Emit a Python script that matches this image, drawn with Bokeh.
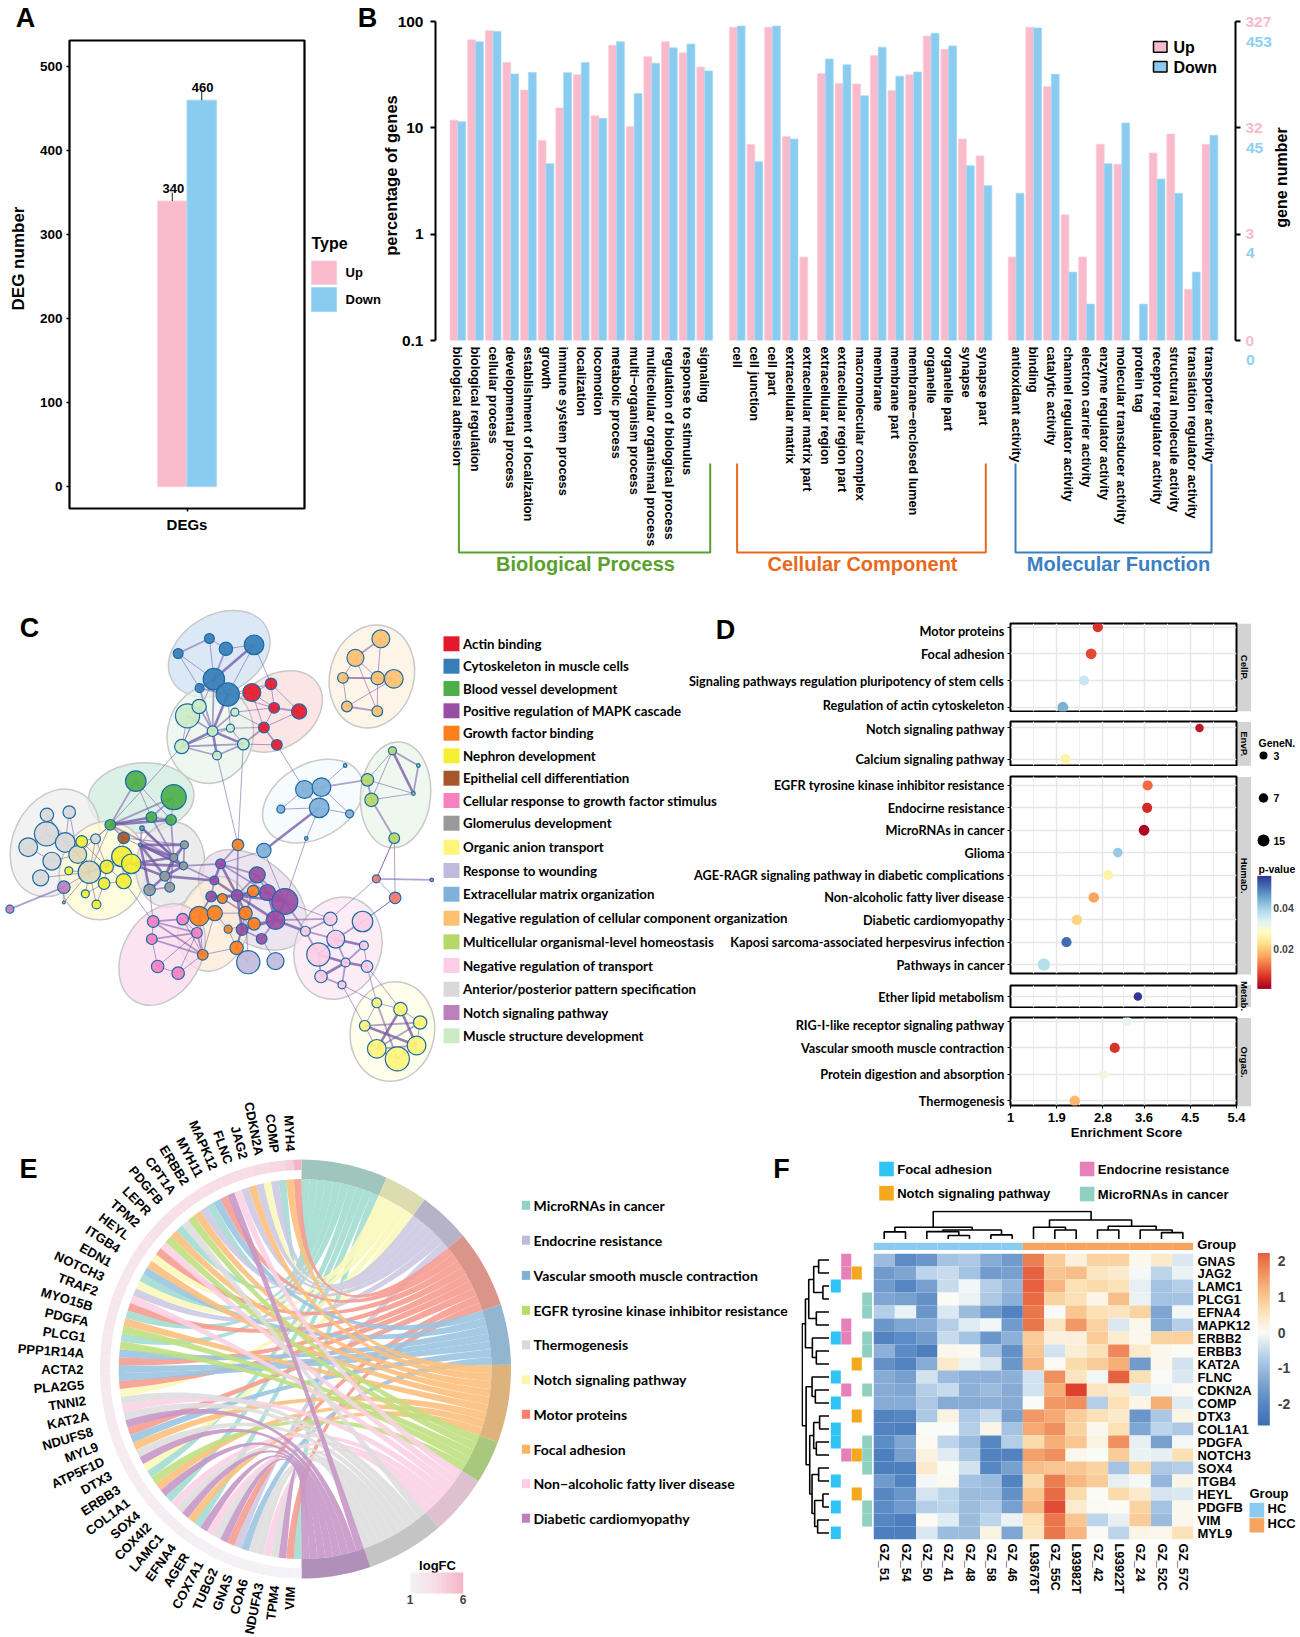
import math
import numpy as np
from bokeh.plotting import figure
from bokeh.embed import file_html
from bokeh.resources import INLINE
from bokeh.core.properties import value
from bokeh.models import Range1d, FixedTicker, FactorRange, ColorBar, LinearColorMapper, ColumnDataSource, LogAxis
from bokeh.palettes import interp_palette
from bokeh.transform import transform

FONT = "Liberation Sans"
NARROW = "Lato"
PINK = "#F9BBCC"
BLUE = "#89CCF0"

# ---------- panel A
deg_types = ["Up", "Down"]
deg_counts = [340, 460]

# ---------- panel B
bp_terms = ["biological adhesion", "biological regulation", "cellular process", "developmental process",
            "establishment of localization", "growth", "immune system process", "localization", "locomotion",
            "metabolic process", "multi\u2212organism process", "multicellular organismal process",
            "regulation of biological process", "response to stimulus", "signaling"]
bp_up = [11.8, 67.3, 82, 41.2, 22.7, 7.6, 15.4, 31.6, 13, 59.9, 10.3, 46.7, 64.5, 50.7, 37.3]
bp_down = [11.4, 64.5, 80.7, 32.1, 33.2, 4.6, 33, 41.2, 12.3, 64.5, 21, 40.6, 56.5, 61.4, 34.3]
cc_terms = ["cell", "cell junction", "cell part", "extracellular matrix", "extracellular matrix part",
            "extracellular region", "extracellular region part", "macromolecular complex", "membrane",
            "membrane part", "membrane\u2212enclosed lumen", "organelle", "organelle part", "synapse", "synapse part"]
cc_up = [88.4, 7.0, 88.4, 8.3, 0.61, 32.4, 26.1, 25.9, 47.9, 22.5, 31.6, 73, 54.7, 7.85, 5.45]
cc_down = [90.6, 4.8, 90.6, 7.85, 0.1, 44.4, 39.2, 20, 57.4, 30.6, 33.5, 77.4, 58.9, 4.4, 2.86]
mf_terms = ["antioxidant activity", "binding", "catalytic activity", "channel regulator activity",
            "electron carrier activity", "enzyme regulator activity", "molecular transducer activity",
            "protein tag", "receptor regulator activity", "structural molecule activity",
            "translation regulator activity", "transporter activity"]
mf_up = [0.61, 88.4, 24.5, 1.52, 0.61, 7, 4.55, 0.1, 5.8, 8.75, 0.304, 7]
mf_down = [2.42, 87, 31.9, 0.44, 0.22, 4.6, 11.1, 0.22, 3.3, 2.42, 0.44, 8.5]
group_start = [0, 15.85, 31.67]

# ---------- panel C
legend_c = ["Actin binding", "Cytoskeleton in muscle cells", "Blood vessel development",
            "Positive regulation of MAPK cascade", "Growth factor binding", "Nephron development",
            "Epithelial cell differentiation", "Cellular response to growth factor stimulus",
            "Glomerulus development", "Organic anion transport", "Response to wounding",
            "Extracellular matrix organization", "Negative regulation of cellular component organization",
            "Multicellular organismal-level homeostasis", "Negative regulation of transport",
            "Anterior/posterior pattern specification", "Notch signaling pathway", "Muscle structure development"]
colors_c = ["#E41A2C", "#377EB8", "#4DAF4A", "#984EA3", "#FF7F1E", "#F5EE33", "#A65628", "#F781BF", "#999999",
            "#FFF57A", "#C0BBDD", "#7FB1D9", "#FDC070", "#B5D868", "#FCCDE5", "#D9D9D9", "#BC80BD", "#CCEBC5",
            "#F4776A", "#DDD9B8"]
node_x = [468, 398, 505, 568, 478, 446, 509, 563, 606, 613, 669, 590, 619, 852, 795, 767, 845, 881, 776, 844,
          419, 445, 525, 475, 515, 406, 544, 485, 303, 388, 246, 338, 382, 681, 719, 714, 628, 782, 772, 685, 590,
          878, 936, 925, 822, 831, 882, 104, 154, 103, 62, 115, 90, 145, 173, 199, 213,
          182, 272, 293, 238, 276, 232, 153, 190, 215, 142, 276, 142, 21,
          412, 388, 410, 368, 379, 334, 317, 313, 493, 575, 479, 472, 530, 598, 637, 616, 541, 585,
          532, 566, 497, 549, 568, 510, 445, 480, 529, 453, 342, 408, 440, 339, 352, 398, 555, 616,
          739, 811, 683, 751, 712, 814, 773, 821, 718, 765, 842, 884, 966, 843, 896, 940, 816, 932, 843, 889]
node_y = [114, 159, 145, 133, 236, 263, 282, 276, 250, 322, 333, 381, 433, 115, 172, 232, 233, 235, 318, 332,
          346, 318, 335, 392, 383, 438, 431, 465, 542, 590, 673, 650, 658, 567, 560, 622, 626, 640, 495, 714, 750,
          451, 495, 579, 538, 598, 713, 643, 635, 700, 740, 782, 832, 726, 762, 815, 715,
          723, 768, 790, 799, 842, 849, 811, 880, 912, 906, 712, 860, 926,
          733, 771, 796, 827, 860, 868, 683, 733, 790, 823, 840, 888, 885, 876, 903, 959, 987, 1015,
          733, 872, 894, 938, 970, 986, 947, 938, 1042, 1063, 963, 956, 997, 1016, 1098, 1118, 1085, 1082,
          955, 963, 992, 1016, 1062, 1035, 1086, 1098, 1128, 1153, 835, 892, 838, 1207, 1226, 1266, 1276, 1335, 1345, 1375]
node_r = [11, 11, 15, 22, 24, 10, 26, 20, 13, 12, 17, 12, 12, 20, 19, 12, 15, 21, 12, 12,
          27, 16, 9, 12, 9, 16, 13, 10, 23, 28, 12, 12, 12, 20, 21, 22, 9, 9, 4, 4, 16,
          9, 4, 4, 14, 15, 12, 15, 14, 27, 21, 20, 18, 22, 20, 25, 11,
          13, 23, 22, 15, 17, 13, 9, 9, 10, 3, 13, 14, 9,
          9, 9, 9, 11, 11, 13, 5, 4, 11, 18, 10, 12, 13, 18, 29, 21, 13, 12,
          13, 13, 11, 15, 14, 9, 22, 17, 15, 12, 13, 13, 12, 12, 14, 14, 26, 19,
          15, 23, 11, 20, 26, 10, 10, 13, 14, 9, 9, 13, 4, 11, 15, 15, 12, 21, 21, 27]
node_group = [1] * 7 + [0] * 6 + [12] * 7 + [17] * 8 + [2] * 5 + [11] * 8 + [13] * 6 + [15] * 7 + [19, 19, 15] + \
             [5] * 10 + [6] + [16, 16] + [8] * 8 + [3] * 10 + [4] * 10 + [7] * 6 + [10, 10] + [14] * 10 + [18, 18, 16] + [9] * 7
edges = [(0,1,2),(0,2,1),(1,4,1),(2,4,2),(3,4,3),(0,4,1),(4,6,2),(5,6,2),(3,6,1),(4,5,2),(1,5,1),(3,8,1),(2,3,1),
         (7,8,1),(7,9,1),(8,9,1),(9,10,2),(9,11,1),(10,11,1),(11,12,2),(8,10,1),(7,11,1),(6,7,1),(6,8,1),(6,9,1),(22,9,1),(22,11,1),(24,11,1),(26,11,2),(26,12,1),(12,33,1),
         (13,14,2),(13,16,1),(14,16,1),(14,15,1),(15,16,2),(16,17,2),(15,18,1),(16,19,1),(18,19,2),(14,19,1),(15,17,1),(17,18,1),
         (20,21,1),(20,23,2),(21,23,2),(22,23,2),(23,24,2),(23,25,3),(23,26,3),(23,27,3),(25,27,2),(26,27,2),(24,26,1),(24,25,1),(6,23,3),(4,23,2),(5,23,2),(6,24,1),(4,25,1),(25,26,2),(20,25,1),(21,25,1),
         (28,30,2),(28,31,1),(29,30,2),(29,31,2),(30,31,3),(30,32,3),(31,32,2),(29,32,1),(28,32,1),(30,71,2),(31,71,2),(32,71,2),(25,30,1),(27,88,1),(26,88,1),
         (33,34,1),(33,35,1),(34,35,1),(35,36,1),(35,37,1),(34,44,2),(38,34,1),(39,35,1),(36,33,1),(37,34,1),(40,35,3),(40,78,1),(40,84,1),(39,84,1),
         (41,42,2),(41,43,3),(42,43,2),(41,44,1),(44,45,2),(45,46,2),(44,43,1),(45,43,1),(41,45,1),(46,116,1),(116,117,1),(116,118,2),(116,106,1),(117,107,1),(117,46,1),(116,46,1),
         (47,49,1),(48,53,1),(47,53,1),(49,53,1),(49,50,1),(49,54,1),(50,51,1),(51,52,1),(51,54,1),(53,54,1),(54,55,2),(52,55,1),(47,54,1),(48,54,1),(56,53,1),(56,55,1),
         (57,60,1),(58,59,1),(58,60,1),(59,60,1),(60,61,1),(60,62,1),(61,62,1),(58,61,1),(55,60,2),(55,58,1),(63,55,1),(64,55,1),(65,55,1),(64,62,1),(65,62,1),(66,55,1),(66,68,1),(68,69,2),(68,55,1),(56,60,1),(57,55,1),
         (67,58,1),(67,60,1),(67,70,1),(67,72,1),(30,55,1),(30,54,1),(30,56,1),(30,67,2),
         (70,71,3),(70,72,2),(71,72,2),(71,73,3),(72,73,3),(73,74,2),(73,75,3),(74,75,2),(76,71,3),(77,71,3),(76,77,2),(77,73,3),(77,72,3),(76,72,2),(70,73,2),(71,74,2),(75,77,3),(70,77,3),(59,72,3),(59,71,3),(59,73,3),(72,78,2),(73,80,3),(72,80,2),
         (78,80,3),(78,79,2),(78,82,3),(78,83,2),(80,81,2),(80,82,3),(81,82,3),(82,83,3),(82,84,3),(83,84,3),(83,85,3),(84,85,3),(82,85,3),(82,86,3),(85,86,3),(86,87,2),(85,87,2),(88,78,2),(88,82,2),(79,83,2),(79,84,2),(79,82,2),
         (89,90,2),(89,91,2),(90,91,2),(91,92,2),(92,93,1),(93,95,1),(94,95,2),(91,95,1),(94,97,1),(96,97,1),(96,93,1),(96,91,2),(81,94,2),(90,81,2),(91,82,3),(92,85,2),(89,82,2),(94,81,1),(96,86,2),(97,95,1),
         (98,99,2),(98,100,2),(99,100,1),(98,101,1),(100,101,2),(101,102,1),(100,103,1),(102,103,1),(100,97,2),(101,97,2),(99,97,1),(103,97,1),(102,100,1),(98,97,2),(94,100,1),(94,99,1),(61,98,1),(75,98,1),
         (104,96,2),(105,87,1),(104,91,1),(106,109,1),(106,108,2),(107,109,2),(108,109,2),(109,110,2),(109,111,3),(109,112,2),(110,112,3),(110,114,2),(111,112,2),(112,113,3),(111,113,1),(112,114,3),(114,115,2),(112,115,2),(108,110,2),(85,108,3),(84,108,2),(85,106,2),(84,106,1),(107,117,1),
         (115,119,1),(113,119,1),(113,120,1),(115,122,1),(119,120,1),(119,122,1),(120,121,1),(120,123,3),(121,123,1),(122,124,1),(124,125,1),(123,125,2),(122,123,3),(120,124,3),(119,125,2),(121,124,2),(121,122,2),(124,123,2)]
ell_x = [490, 620, 832, 470, 315, 122, 230, 380, 700, 885, 565, 478, 362, 756, 878]
ell_y = [160, 333, 228, 402, 592, 727, 810, 792, 602, 583, 898, 970, 1062, 1043, 1293]
ell_w = [108, 98, 104, 98, 106, 112, 100, 86, 108, 106, 124, 96, 108, 104, 100]
ell_h = [78, 72, 84, 86, 70, 84, 86, 68, 74, 70, 80, 70, 78, 86, 84]
ell_a = [30, 35, 75, 80, 5, 65, 70, 80, 30, 85, -40, 75, 60, 70, 80]
ell_c = ["#CFE2F3", "#FBDCDC", "#FDF0E0", "#E8F5EC", "#CFEBDD", "#EEEEEE", "#FEFBD0", "#E6E6E6", "#F3F9FD", "#EAF5E9",
         "#E6DCEB", "#FDEBD6", "#FBD9EE", "#FBE6F3", "#FDFDE3"]

# ---------- panel D
facet_names = ["CellP.", "EnvP.", "HumaD.", "Metab.", "OrgaS."]
facet_terms = [["Motor proteins", "Focal adhesion", "Signaling pathways regulation pluripotency of stem cells",
                "Regulation of actin cytoskeleton"],
               ["Notch signaling pathway", "Calcium signaling pathway"],
               ["EGFR tyrosine kinase inhibitor resistance", "Endocirne resistance", "MicroRNAs in cancer", "Glioma",
                "AGE-RAGR signaling pathway in diabetic complications", "Non-alcoholic fatty liver disease",
                "Diabetic cardiomyopathy", "Kaposi sarcoma-associated herpesvirus infection", "Pathways in cancer"],
               ["Ether lipid metabolism"],
               ["RIG-I-like receptor signaling pathway", "Vascular smooth muscle contraction",
                "Protein digestion and absorption", "Thermogenesis"]]
facet_score = [[2.70, 2.57, 2.43, 2.02], [4.68, 2.07],
               [3.67, 3.66, 3.60, 3.09, 2.90, 2.62, 2.29, 2.09, 1.65], [3.48], [3.27, 3.03, 2.81, 2.25]]
facet_p = [[.006, .008, .036, .044], [.003, .026],
           [.011, .005, .001, .041, .026, .016, .021, .051, .038], [.056], [.033, .006, .031, .018]]
facet_gene = [[5, 7, 5, 7], [3, 6], [5, 5, 7, 4, 5, 6, 6, 5, 15], [3], [4, 5, 4, 6]]
score_ticks = [1, 1.9, 2.8, 3.6, 4.5, 5.4]

# ---------- panel E
chord_genes = ["MYH4", "COMP", "CDKN2A", "JAG2", "FLNC", "MAPK12", "MYH11", "ERBB2", "CPT1A", "PDGFB", "LEPR", "TPM2",
               "HEYL", "ITGB4", "EDN1", "NOTCH3", "TRAF2", "MYO15B", "PDGFA", "PLCG1", "PPP1R14A", "ACTA2", "PLA2G5",
               "TNNI2", "KAT2A", "NDUFS8", "MYL9", "ATP5F1D", "DTX3", "ERBB3", "COL1A1", "SOX4", "COX4I2", "LAMC1",
               "EFNA4", "AGER", "COX7A1", "TUBG2", "GNAS", "COA6", "NDUFA3", "TPM4", "VIM"]
chord_logfc = [6, 4.3, 3.8, 3.6, 3.4, 3.3, 3.2, 3.1, 3.0, 2.9, 2.8, 2.7, 2.6, 2.55, 2.5, 2.4, 2.35, 2.3, 2.25, 2.2, 2.15,
               2.1, 2.05, 2.0, 1.95, 1.9, 1.85, 1.8, 1.75, 1.7, 1.65, 1.6, 1.55, 1.5, 1.45, 1.4, 1.35, 1.3, 1.25, 1.2,
               1.15, 1.1, 1.05]
ring_order = ["MicroRNAs in cancer", "Notch signaling pathway", "Endocrine resistance", "Motor proteins",
              "Vascular smooth muscle contraction", "Focal adhesion", "EGFR tyrosine kinase inhibitor resistance",
              "Non\u2212alcoholic fatty liver disease", "Thermogenesis", "Diabetic cardiomyopathy"]
ring_genes = [["CDKN2A", "ERBB2", "PDGFB", "NOTCH3", "PDGFA", "PLCG1", "ERBB3", "SOX4", "EFNA4", "VIM"],
              ["JAG2", "HEYL", "NOTCH3", "KAT2A", "DTX3"],
              ["CDKN2A", "JAG2", "MAPK12", "ERBB2", "NOTCH3", "GNAS"],
              ["MYH4", "MYH11", "TPM2", "MYO15B", "ACTA2", "TNNI2", "MYL9", "TUBG2", "TPM4"],
              ["MYH11", "EDN1", "PPP1R14A", "ACTA2", "PLA2G5", "MYL9", "GNAS"],
              ["COMP", "FLNC", "ERBB2", "PDGFB", "ITGB4", "PDGFA", "MYL9", "COL1A1", "LAMC1"],
              ["ERBB2", "PDGFB", "PDGFA", "PLCG1", "ERBB3"],
              ["MAPK12", "LEPR", "TRAF2", "NDUFS8", "COX4I2", "COX7A1", "NDUFA3"],
              ["CPT1A", "KAT2A", "NDUFS8", "ATP5F1D", "COX4I2", "COX7A1", "GNAS", "COA6", "NDUFA3"],
              ["MAPK12", "NDUFS8", "ATP5F1D", "COL1A1", "COX4I2", "AGER", "COX7A1", "NDUFA3"]]
ring_fill = ["#A3DDD1", "#FBF8BB", "#CCC9E3", "#F69C90", "#9BC4E1", "#FCC07E", "#BFE080", "#F9D2E5", "#DEDEDE", "#C697C6"]
ring_edge = ["#9FC5BC", "#DDDBB0", "#B6B3C9", "#DB9489", "#92B6CF", "#DEB27D", "#A8C87D", "#DFC0CF", "#C4C4C4", "#B090B8"]
legend_e = ["MicroRNAs in cancer", "Endocrine resistance", "Vascular smooth muscle contraction",
            "EGFR tyrosine kinase inhibitor resistance", "Thermogenesis", "Notch signaling pathway", "Motor proteins",
            "Focal adhesion", "Non\u2212alcoholic fatty liver disease", "Diabetic cardiomyopathy"]
legend_e_c = ["#8DD3C7", "#BEBADA", "#80B1D3", "#B3DE69", "#D9D9D9", "#FBF7A8", "#FB8072", "#FDB462", "#FCCDE5", "#BC80BD"]

# ---------- panel F
heat_cols = ["GZ_51", "GZ_54", "GZ_50", "GZ_41", "GZ_48", "GZ_58", "GZ_46", "L93676T", "GZ_55C", "L93982T", "GZ_42",
             "L93922T", "GZ_24", "GZ_52C", "GZ_57C"]
heat_rows = ["GNAS", "JAG2", "LAMC1", "PLCG1", "EFNA4", "MAPK12", "ERBB2", "ERBB3", "KAT2A", "FLNC", "CDKN2A", "COMP",
             "DTX3", "COL1A1", "PDGFA", "NOTCH3", "SOX4", "ITGB4", "HEYL", "PDGFB", "VIM", "MYL9"]
heat_values = [
    [-1.0, -1.9, -1.7, -0.9, -0.8, -1.3, -1.6, 1.9, 0.9, 0.25, 0.8, 0.8, 0.1, 0.4, -0.3],
    [-1.6, -1.4, -0.6, -0.5, -0.9, -1.6, -1.5, 2.2, 1.0, 1.1, 0.5, 0.4, -0.05, -0.6, -0.15],
    [-1.6, -2.0, -1.5, -0.5, -0.1, -0.7, -1.1, 2.2, 1.2, 0.6, 0.7, 0.55, -0.2, -0.9, -0.7],
    [-1.4, -1.5, -1.8, 0.0, -0.15, -0.8, -1.2, 2.1, 0.8, 0.6, 0.15, 1.1, -0.15, -0.9, -0.9],
    [-0.7, -0.15, -1.7, -0.3, -1.0, -1.6, -2.1, 2.0, -0.03, 1.0, 0.6, 0.5, 0.8, -1.4, -0.1],
    [-1.7, -1.4, -1.3, -0.7, -0.25, -0.1, -1.6, 2.0, 0.5, 1.6, 0.8, -0.3, 0.1, -1.3, -0.7],
    [-2.1, -1.9, -1.6, -0.5, -0.9, -1.7, -1.2, 0.9, 0.25, 0.25, 0.9, 0.35, 0.1, 0.8, 0.85],
    [-1.2, -1.9, -2.2, 0.1, 0.05, -0.9, -1.8, 1.0, -0.4, 0.3, 0.6, 1.8, 0.4, 0.1, 0.02],
    [-1.8, -2.1, -1.3, 0.4, -0.15, -0.35, -1.7, 1.2, 0.03, 0.7, 0.9, 1.3, -1.6, 0.1, -0.4],
    [-1.3, -1.5, -0.4, -1.0, -1.2, -1.2, -1.2, -0.4, 1.7, 0.5, -0.1, 2.2, 0.6, -0.03, -0.3],
    [-1.3, -1.4, -0.7, -0.5, -1.2, -1.0, -1.3, -0.4, 1.3, 2.5, 0.5, 0.4, -0.25, -0.1, 0.05],
    [-1.3, -1.3, -0.8, -1.3, -1.3, -1.2, -1.3, -0.02, 1.6, 1.7, -0.7, 0.6, 0.15, 1.3, -0.25],
    [-2.1, -2.0, -0.8, 0.2, -0.8, -0.5, -1.5, 1.6, 1.4, 0.9, 0.6, 0.4, -1.7, -0.8, 0.15],
    [-2.1, -2.2, -0.02, -0.02, -0.7, 0.15, -0.9, 1.4, 1.7, 0.8, 0.1, 0.6, -1.4, -0.6, -0.8],
    [-1.9, -1.4, 0.05, -0.6, -1.0, -2.0, -0.7, 0.7, 1.3, 1.0, 0.2, 1.7, -0.2, -1.5, -0.07],
    [-2.2, -1.5, 0.2, -0.25, -0.8, -2.1, -2.1, 1.5, 1.7, 0.1, -0.02, 0.9, -0.15, -0.2, 0.6],
    [-2.2, -2.2, 0.4, 0.02, -0.4, -2.0, -1.5, 1.1, 1.0, 1.0, 0.8, -0.9, 0.7, -0.8, -0.7],
    [-1.6, -2.1, -0.07, 0.07, -0.9, -1.0, -2.1, 0.7, 1.9, 1.2, 0.9, -0.2, -0.05, -1.1, 0.15],
    [-2.0, -1.7, -0.35, -0.6, -1.0, -1.0, -1.8, 1.0, 2.1, 0.7, 0.02, 0.7, 0.4, -0.35, -0.3],
    [-1.9, -1.6, -0.7, -0.6, -1.0, -0.8, -1.5, 1.2, 2.4, 0.35, 0.05, 0.02, 0.8, -0.9, 0.1],
    [-2.0, -2.2, 0.05, -0.25, -1.0, -0.6, -0.15, 0.6, 2.0, 1.0, -0.6, -0.2, 0.9, -1.0, 0.1],
    [-2.2, -2.2, -0.3, -1.0, -1.0, 0.2, -1.4, 0.5, 2.0, 1.2, 0.0, -0.6, 0.15, 0.12, 0.55]]
anno_names = ["Focal adhesion", "Endocrine resistance", "Notch signaling pathway", "MicroRNAs in cancer"]
anno_genes = [["LAMC1", "ERBB2", "FLNC", "COMP", "COL1A1", "PDGFA", "ITGB4", "PDGFB", "MYL9"],
              ["GNAS", "JAG2", "MAPK12", "ERBB2", "CDKN2A", "NOTCH3"],
              ["JAG2", "KAT2A", "DTX3", "NOTCH3", "HEYL"],
              ["PLCG1", "EFNA4", "ERBB2", "ERBB3", "CDKN2A", "PDGFA", "NOTCH3", "SOX4", "PDGFB", "VIM"]]
anno_colors = ["#2EC4F6", "#E581B8", "#F6A81C", "#8FD0C0"]
group_names = ["HC"] * 7 + ["HCC"] * 8
col_merges = [(0, 0, 1, 0, 23), (3, 0, 4, 0, 12), (2, 0, 3.5, 12, 24), (5, 0, 6, 0, 14), (2.75, 24, 5.5, 14, 29),
              (.5, 23, 4.125, 29, 37), (8, 0, 9, 0, 29), (7, 0, 8.5, 29, 37), (10, 0, 11, 0, 29), (13, 0, 14, 0, 21),
              (12, 0, 13.5, 21, 29), (10.5, 29, 12.75, 29, 40), (7.75, 37, 11.6, 40, 59), (2.3, 37, 9.7, 59, 85)]
row_merges = [(0, 0, 1, 0, 33), (2, 0, 3, 0, 20), (.5, 33, 2.5, 20, 48), (4, 0, 5, 0, 40), (1.5, 48, 4.5, 40, 63),
              (7, 0, 8, 0, 40), (6, 0, 7.5, 40, 52), (3, 63, 6.75, 52, 73), (10, 0, 11, 0, 43), (9, 0, 10.5, 43, 53),
              (12, 0, 13, 0, 30), (14, 0, 15, 0, 40), (12.5, 30, 14.5, 40, 48), (16, 0, 17, 0, 33), (18, 0, 19, 0, 20),
              (20, 0, 21, 0, 36), (18.5, 20, 20.5, 36, 45), (16.5, 33, 19.5, 45, 53), (13.5, 48, 18, 53, 60),
              (9.75, 53, 15.75, 60, 71), (4.9, 73, 12.75, 71, 83)]

# ---------- helpers
placed = []


def make(x0, y0, x1, y1, l=0, r=0, t=0, b=0, **kw):
    p = figure(width=int(round(x1 - x0 + l + r)), height=int(round(y1 - y0 + t + b)),
               min_border_left=l, min_border_right=r, min_border_top=t, min_border_bottom=b,
               output_backend="svg", toolbar_location=None, tools="",
               background_fill_color=None, border_fill_color=None, outline_line_color=None, **kw)
    p.styles = {"position": "absolute", "left": f"{int(round(x0 - l))}px", "top": f"{int(round(y0 - t))}px"}
    placed.append(p)
    return p


def noaxes(p):
    p.xaxis.visible = False
    p.yaxis.visible = False
    p.grid.visible = False


def style_axis(ax, size, font=FONT, bold=True, color="black"):
    ax.major_label_text_font = font
    ax.major_label_text_font_size = f"{size}px"
    ax.major_label_text_font_style = "bold" if bold else "normal"
    ax.major_label_text_color = color
    ax.minor_tick_line_color = None


# ---------- overlay of page coordinates (titles, legends)
ov = make(0, 0, 1300, 1637, x_range=Range1d(0, 1300), y_range=Range1d(1637, 0))
noaxes(ov)


def T(x, y, s, size, color="black", align="left", base="middle", angle=0, bold=True, font=FONT):
    ov.text(x=[x], y=[y], text=[s], text_font=value(font), text_font_size=f"{size}px", text_color=color,
            text_align=align, text_baseline=base, angle=math.radians(angle),
            text_font_style="bold" if bold else "normal")


def SW(x0, y0, x1, y1, color, line=None, lw=1, alpha=1):
    ov.quad(left=[x0], right=[x1], top=[y0], bottom=[y1], fill_color=color, fill_alpha=alpha, line_color=line,
            line_width=lw)


for s, x, y in [("A", 25, 17), ("B", 367, 17), ("C", 29, 627), ("D", 725, 629), ("E", 28, 1168), ("F", 781, 1168)]:
    T(x, y, s, 27, align="center")

# ---------- panel A
pa = make(69, 39.5, 304, 508, l=60, r=2, t=2, b=30, x_range=Range1d(0.4, 1.6), y_range=Range1d(-26, 531))
pa.outline_line_color = "black"
pa.outline_line_width = 2.2
pa.grid.visible = False
pa.vbar(x=[0.925, 1.075], top=deg_counts, bottom=0, width=0.15, fill_color=[PINK, BLUE], line_color=["#FBD0DC", "#A5DAF5"],
        line_width=1)
pa.segment(x0=[0.925, 1.075], x1=[0.925, 1.075], y0=deg_counts, y1=[c + 10 for c in deg_counts], line_color="#444444",
           line_width=1.2)
pa.text(x=[0.93, 1.08], y=[c + 10 for c in deg_counts], text=[str(c) for c in deg_counts], text_font=value(FONT),
        text_font_size="13px", text_align="center", text_baseline="bottom", text_font_style="bold")
pa.xaxis.ticker = FixedTicker(ticks=[1])
pa.xaxis.major_label_overrides = {1: "DEGs"}
pa.yaxis.ticker = FixedTicker(ticks=[0, 100, 200, 300, 400, 500])
for ax in (pa.xaxis[0], pa.yaxis[0]):
    ax.axis_line_color = None
    ax.major_tick_out = 3
    ax.major_tick_in = 0
    ax.major_tick_line_width = 1.5
style_axis(pa.yaxis[0], 13.5, FONT)
style_axis(pa.xaxis[0], 15, FONT)
pa.xaxis.major_label_standoff = 4
pa.yaxis.major_label_standoff = 4
T(18, 258, "DEG number", 17, align="center", angle=90)
T(311, 243, "Type", 16, base="middle")
SW(311, 260.5, 336, 284, PINK, line="#FBD0DC")
SW(311, 287, 336, 311, BLUE, line="#A5DAF5")
T(345, 272, "Up", 13)
T(345, 298.5, "Down", 13)

# ---------- panel B
terms_all = bp_terms + cc_terms + mf_terms
x_all = [group_start[0] + i for i in range(15)] + [group_start[1] + i for i in range(15)] + [group_start[2] + i for i in range(12)]
up_all = bp_up + cc_up + mf_up
down_all = bp_down + cc_down + mf_down
pb = make(434.8, 21, 1235, 339.8, l=50, r=40, t=15, b=240, x_range=Range1d(-1.27, 44.12),
          y_range=Range1d(0.1, 100), y_axis_type="log")
pb.grid.visible = False
pb.vbar(x=[k - 0.2235 for k in x_all], top=up_all, bottom=0.1, width=0.447, fill_color=PINK, line_color="#FBD0DC", line_width=0.7)
pb.vbar(x=[k + 0.2235 for k in x_all], top=down_all, bottom=0.1, width=0.447, fill_color=BLUE, line_color="#A5DAF5", line_width=0.7)
pb.xaxis.ticker = FixedTicker(ticks=x_all)
pb.xaxis.major_label_overrides = {k: t for k, t in zip(x_all, terms_all)}
pb.xaxis.major_label_orientation = "vertical"
pb.xaxis.axis_line_color = None
pb.xaxis.major_tick_line_color = None
pb.xaxis.major_label_standoff = 0
style_axis(pb.xaxis[0], 12.8, FONT, bold=True)
pb.yaxis.ticker = FixedTicker(ticks=[0.1, 1, 10, 100])
pb.yaxis.major_label_overrides = {0.1: "0.1", 1: "1", 10: "10", 100: "100"}
style_axis(pb.yaxis[0], 15.5)
pb.yaxis.axis_line_width = 2
pb.yaxis.major_tick_out = 5
pb.yaxis.major_tick_in = 0
pb.yaxis.major_tick_line_width = 2
pb.yaxis.major_label_standoff = 7
rax = LogAxis(ticker=FixedTicker(ticks=[0.1, 1, 10, 100]),
              major_label_overrides={0.1: "0", 1: "3", 10: "32", 100: "327"})
style_axis(rax, 15.5, color=PINK)
rax.axis_line_width = 2
rax.major_tick_out = 5
rax.major_tick_in = 0
rax.major_tick_line_width = 2
rax.major_label_standoff = 5
pb.add_layout(rax, "right")
for s, y in [("453", 41), ("45", 147), ("4", 252.6), ("0", 359)]:
    T(1245.5, y, s, 15.5, color="#8CD0F4")
T(390.5, 175, "percentage of genes", 16.5, align="center", angle=90)
T(1281, 177, "gene number", 16, align="center", angle=90)
SW(1153, 41, 1166.5, 51.7, PINK, line="black", lw=1.5)
SW(1153, 61, 1166.5, 71.6, BLUE, line="black", lw=1.5)
T(1173, 46.7, "Up", 16)
T(1173, 66.6, "Down", 16)
for xl, xr, c, s, xt in [(458.4, 709.7, "#5AA02C", "Biological Process", 585), (736.6, 985.3, "#E8681C", "Cellular Component", 862),
                         (1015, 1211, "#3B7FC4", "Molecular Function", 1118)]:
    ov.line(x=[xl, xl, xr, xr], y=[463, 552, 552, 463], line_color=c, line_width=2)
    T(xt, 563, s, 20, color=c, align="center")

# ---------- panel C
pc = make(0, 600, 440, 1090, x_range=Range1d(0, 440 / .4464), y_range=Range1d(1470, 0))
noaxes(pc)
pc.ellipse(x=ell_x, y=ell_y, width=ell_w, height=ell_h, angle=[math.radians(a) for a in ell_a], width_units="screen",
           height_units="screen", fill_color=ell_c, fill_alpha=0.75, line_color="#C9C9C9", line_width=1.5)
thin = [e for e in edges if e[2] == 1]
mid = [e for e in edges if e[2] == 2]
thick = [e for e in edges if e[2] == 3]
for es, w, a in [(thin, 1.0, 0.55), (mid, 1.8, 0.55), (thick, 2.6, 0.75)]:
    pc.multi_line(xs=[[node_x[i], node_x[j]] for i, j, _ in es], ys=[[node_y[i], node_y[j]] for i, j, _ in es],
                  line_color="#7153A5", line_alpha=a, line_width=w)
pc.scatter(x=node_x, y=node_y, size=[2 * r * .4464 for r in node_r], fill_color=[colors_c[g] for g in node_group],
           fill_alpha=0.92, line_color="#1C6AA6", line_width=1.2)
leg_y = [643.3, 665.7, 688, 710.3, 732.7, 755.3, 777.7, 800, 822.7, 846.7, 870, 893.7, 917.7, 941.3, 965, 988.7, 1012, 1035.3]
for name, c, y in zip(legend_c, colors_c, leg_y):
    SW(443, y - 7.5, 459, y + 7.5, c)
    T(462.5, y, name, 13.3, font=NARROW)

# ---------- panel D
frames = [(623.2, 710.7, -.134, 3.16), (721.4, 765.3, -.207, 1.207), (776.4, 973.9, -.4, 8.4),
          (984.6, 1006.4, -.5, .5), (1017.5, 1105.7, -.148, 3.175)]
rdylbu = ["#a50026", "#d73027", "#f46d43", "#fdae61", "#fee090", "#ffffbf", "#e0f3f8", "#abd9e9", "#74add1", "#4575b4", "#313695"]
pmap = LinearColorMapper(palette=interp_palette(rdylbu, 256), low=0, high=0.056)
for k, (top, bot, y0, y1) in enumerate(frames):
    last = k == len(frames) - 1
    pd_ = make(1010.2, top, 1236, bot, l=330, r=60, t=1, b=(45 if last else 20 if k == 2 else 1),
               x_range=Range1d(1, 5.4), y_range=Range1d(y1, y0))
    pd_.outline_line_color = "black"
    pd_.outline_line_width = 2
    ys = list(range(len(facet_terms[k])))
    pd_.xaxis.ticker = FixedTicker(ticks=score_ticks, minor_ticks=[1.45, 2.35, 3.2, 4.05, 4.95])
    pd_.yaxis.ticker = FixedTicker(ticks=ys)
    pd_.yaxis.major_label_overrides = {i: s for i, s in enumerate(facet_terms[k])}
    style_axis(pd_.yaxis[0], 12.7, NARROW)
    pd_.yaxis.axis_line_color = None
    pd_.yaxis.major_tick_out = 3
    pd_.yaxis.major_tick_in = 0
    pd_.yaxis.major_label_standoff = 3
    pd_.xgrid.grid_line_color = "#E6E6E6"
    pd_.xgrid.grid_line_width = 1.5
    pd_.xgrid.minor_grid_line_color = "#EFEFEF"
    pd_.ygrid.grid_line_color = "#E6E6E6"
    pd_.ygrid.grid_line_width = 1.5
    if last:
        style_axis(pd_.xaxis[0], 13)
        pd_.xaxis.axis_line_color = None
        pd_.xaxis.major_tick_out = 3
        pd_.xaxis.major_tick_in = 0
        pd_.xaxis.major_label_standoff = 3
    else:
        pd_.xaxis.visible = False
    src = ColumnDataSource(dict(x=facet_score[k], y=ys, p=facet_p[k],
                                s=[8.5 + 4 * ((g - 3) / 12) ** 0.5 for g in facet_gene[k]]))
    pd_.scatter(x="x", y="y", size="s", source=src, fill_color=transform("p", pmap), line_color=None)
    SW(1236.7, top, 1250.6, bot, "#D3D3D3")
    T(1243.6, (top + bot) / 2, facet_names[k], 9.5, align="center", angle=-90)
    if k == 2:
        cb = ColorBar(color_mapper=pmap, location=(1257 - 1010.2, 973.9 - 989.3), width=14, height=113, padding=0,
                      ticker=FixedTicker(ticks=[0.02, 0.04]), major_tick_line_color=None, bar_line_color=None,
                      major_label_text_font=FONT, major_label_text_font_size="10.5px", major_label_text_font_style="bold",
                      label_standoff=2, background_fill_color=None, border_line_color=None, title=None)
        pd_.add_layout(cb)
T(1126, 1132, "Enrichment Score", 13, align="center")
T(1258, 742, "GeneN.", 10.5)
T(1258, 868.5, "p-value", 10.5)
for g, y, s in [(3, 755, 8), (7, 797.5, 9.5), (15, 840, 12)]:
    ov.scatter(x=[1263], y=[y], size=s, fill_color="black", line_color=None)
    T(1273, y, str(g), 10.5)

# ---------- panel E
CX, CY = 301, 1368.6
unit = 180 / sum(len(g) for g in ring_genes)
gene_links = {g: [] for g in chord_genes}
for ri, gs in enumerate(ring_genes):
    for g in gs:
        gene_links[g].append(ri)
pe = make(0, 1090, 520, 1637, x_range=Range1d(0 - CX, 520 - CX), y_range=Range1d(CY - 1637, CY - 1090))
noaxes(pe)


def pt(theta, r):
    a = np.radians(theta)
    x = r * np.sin(a)
    return x * np.where(x < 0, 0.962, 1.0), r * np.cos(a)


def arc(t0, t1, r, n=12):
    return pt(np.linspace(t0, t1, n), r)


def bez(p0, p1, n=30):
    t = np.linspace(0, 1, n)
    xs = (1 - t) ** 2 * p0[0] + t ** 2 * p1[0]
    ys = (1 - t) ** 2 * p0[1] + t ** 2 * p1[1]
    return xs, ys


gene_slot = {}
cum = 0
for g in chord_genes:
    n = len(gene_links[g])
    for ri in gene_links[g]:
        gene_slot[(g, ri)] = cum
        cum += 1
ribbons_x, ribbons_y, ribbons_c = [], [], []
ring_x, ring_y = [], []
pos = 0
for ri, gs in enumerate(ring_genes):
    start = pos
    ring_x_, ring_y_ = arc(start * unit, (start + len(gs)) * unit, 190)
    xo, yo = arc((start + len(gs)) * unit, start * unit, 209.5)
    ring_x.append(np.concatenate([ring_x_, xo]))
    ring_y.append(np.concatenate([ring_y_, yo]))
    order = sorted(gs, key=chord_genes.index)
    for k, g in enumerate(order):
        b0, b1 = (start + k) * unit, (start + k + 1) * unit
        s = gene_slot[(g, ri)]
        a_hi, a_lo = 360 - (s + 1) * unit, 360 - s * unit
        ax_, ay_ = arc(a_hi, a_lo, 190)
        bx_, by_ = arc(b0, b1, 190)
        c1x, c1y = bez((ax_[-1], ay_[-1]), (bx_[0], by_[0]))
        c2x, c2y = bez((bx_[-1], by_[-1]), (ax_[0], ay_[0]))
        ribbons_x.append(np.concatenate([ax_, c1x, bx_, c2x]))
        ribbons_y.append(np.concatenate([ay_, c1y, by_, c2y]))
        ribbons_c.append(ring_fill[ri])
    pos += len(gs)
pe.patches(xs=[list(v) for v in ribbons_x], ys=[list(v) for v in ribbons_y], fill_color=ribbons_c, fill_alpha=0.9, line_color=None)
pe.patches(xs=[list(v) for v in ring_x], ys=[list(v) for v in ring_y], fill_color=ring_edge, line_color=None)
fc_map = LinearColorMapper(palette=interp_palette(["#F4F3F7", "#F8DCE5", "#F5B5C9"], 64), low=1, high=6)
gx, gy = [], []
cum = 0
for g in chord_genes:
    n = len(gene_links[g])
    xi, yi = arc(360 - cum * unit, 360 - (cum + n) * unit, 199)
    xo, yo = arc(360 - (cum + n) * unit, 360 - cum * unit, 209.5)
    gx.append(list(np.concatenate([xi, xo])))
    gy.append(list(np.concatenate([yi, yo])))
    cum += n
pe.patches(xs="x", ys="y", source=ColumnDataSource(dict(x=gx, y=gy, v=chord_logfc)), fill_color=transform("v", fc_map),
           line_color=None)
for i, g in enumerate(chord_genes):
    th = 2.9 + i * 174.2 / (len(chord_genes) - 1)
    a = math.radians(th)
    pe.text(x=[-218 * math.sin(a)], y=[218 * math.cos(a)], text=[g], angle=math.radians(th - 90), text_align="right",
            text_baseline="middle", text_font=value(FONT), text_font_size="13px", text_font_style="bold")
cbe = ColorBar(color_mapper=fc_map, location=(409.7, 31), width=53, height=21, padding=0, title=None,
               ticker=FixedTicker(ticks=[1, 6]), major_tick_line_color=None, bar_line_color=None,
               major_label_text_font=FONT, major_label_text_font_size="12px", major_label_text_font_style="bold",
               label_standoff=1, background_fill_color=None, border_line_color=None, orientation="horizontal")
pe.add_layout(cbe)
T(437, 1565, "logFC", 13, align="center")
for name, c, y in zip(legend_e, legend_e_c, [1204.8, 1239.7, 1274.9, 1309.8, 1344.4, 1379.2, 1413.8, 1448.7, 1483.2, 1517.7]):
    SW(521.4, y - 4.5, 529.6, y + 4.5, c)
    T(533, y, name, 14, font=NARROW)

# ---------- panel F
heat_map = LinearColorMapper(palette=interp_palette(
    ["#3C6FB6", "#5A8AC4", "#86ABD5", "#B9D2EA", "#FBFCF8", "#FBDFB0", "#F8B179", "#EC7C50", "#DC3A2A"], 256), low=-2.6, high=2.6)
rows_rev = heat_rows[::-1]
HX0, HX1, HY0, HY1 = 872.7, 1192.7, 1253.3, 1539.3
ph = make(HX0, HY0, HX1, HY1, r=107, b=70, x_range=FactorRange(factors=heat_cols), y_range=FactorRange(factors=rows_rev),
          y_axis_location="right")
ph.grid.visible = False
hx, hy, hv = [], [], []
for r_, row in zip(heat_rows, heat_values):
    for c_, v in zip(heat_cols, row):
        hx.append(c_)
        hy.append(r_)
        hv.append(v)
ph.rect(x="x", y="y", width=1, height=1, source=ColumnDataSource(dict(x=hx, y=hy, v=hv)),
        fill_color=transform("v", heat_map), line_color=None)
for ax in (ph.xaxis[0], ph.yaxis[0]):
    ax.axis_line_color = None
    ax.major_tick_line_color = None
    ax.major_tick_out = 0
    ax.major_tick_in = 0
    ax.major_label_standoff = 4
style_axis(ph.xaxis[0], 12.5)
style_axis(ph.yaxis[0], 13)
ph.xaxis.major_label_orientation = -math.pi / 2
cbf = ColorBar(color_mapper=heat_map, location=(1257 - HX0, HY1 - 1425.3), width=12, height=186, padding=0, title=None,
               ticker=FixedTicker(ticks=[-2, -1, 0, 1, 2]), major_label_overrides={-2: "-2", -1: "-1", 0: "0", 1: "1", 2: "2"},
               major_tick_line_color=None, bar_line_color=None,
               major_label_text_font=FONT, major_label_text_font_size="14px", major_label_text_font_style="bold",
               label_standoff=8, background_fill_color=None, border_line_color=None)
ph.add_layout(cbf)

pg = make(HX0, 1240, HX1, 1250, x_range=FactorRange(factors=heat_cols), y_range=Range1d(0, 1))
noaxes(pg)
pg.rect(x=heat_cols, y=0.5, width=1, height=1, fill_color=[BLUE if g == "HC" else "#F6A460" for g in group_names], line_color=None)
T(1196.7, 1244, "Group", 13)

pcd = make(HX0, 1210, HX1, 1239, x_range=Range1d(-.5, 14.5), y_range=Range1d(0, 88))
noaxes(pcd)
pcd.multi_line(xs=[[a, a, b, b] for a, ha, b, hb, h in col_merges], ys=[[ha, h, h, hb] for a, ha, b, hb, h in col_merges],
               line_color="black", line_width=1.6)
prd = make(801, HY0, 829.5, HY1, x_range=Range1d(85, 0), y_range=Range1d(21.5, -.5))
noaxes(prd)
prd.multi_line(xs=[[ha, h, h, hb] for a, ha, b, hb, h in row_merges], ys=[[a, a, b, b] for a, ha, b, hb, h in row_merges],
               line_color="black", line_width=1.6)
pan = make(830, HY0, 871.7, HY1, x_range=FactorRange(factors=anno_names), y_range=FactorRange(factors=rows_rev))
noaxes(pan)
for name, genes, c in zip(anno_names, anno_genes, anno_colors):
    pan.rect(x=[name] * len(genes), y=genes, width=0.96, height=1, fill_color=c, line_color=None)

for name, c, x, y in [("Focal adhesion", anno_colors[0], 878.7, 1168.5), ("Notch signaling pathway", anno_colors[2], 878.7, 1192.7),
                      ("Endocrine resistance", anno_colors[1], 1079.3, 1168.5), ("MicroRNAs in cancer", anno_colors[3], 1079.3, 1193.5)]:
    SW(x, y - 7.3, x + 14.6, y + 7.3, c)
    T(x + 18, y, name, 13)
T(1249, 1493.3, "Group", 13)
SW(1249, 1502.3, 1263.7, 1517, BLUE)
SW(1249, 1517.7, 1263.7, 1532, "#F6A460")
T(1267, 1508, "HC", 13)
T(1267, 1523.3, "HCC", 13)

open("out.html", "w").write(file_html(placed, INLINE))
